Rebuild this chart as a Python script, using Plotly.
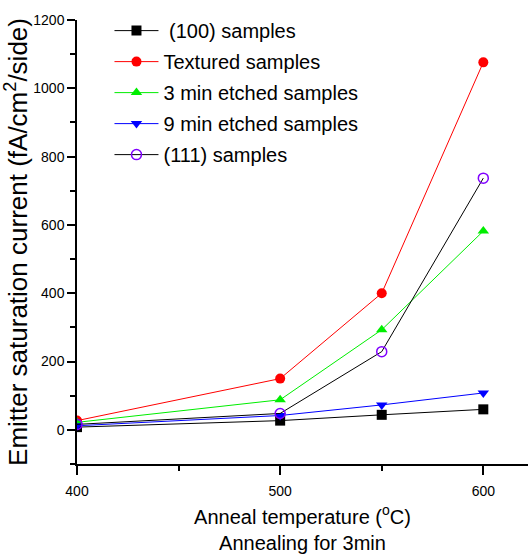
import plotly.graph_objects as go

temps = [400, 500, 550, 600]
s100 = [8, 27, 44, 60]
textured = [27, 150, 400, 1076]
etch3 = [22, 88, 293, 582]
etch9 = [12, 42, 73, 108]
s111 = [16, 48, 229, 737]

names = [" (100) samples", "Textured samples", "3 min etched samples", "9 min etched samples", "(111) samples"]
series = [s100, textured, etch3, etch9, s111]
line_colors = ["black", "red", "#00ee00", "blue", "black"]
marker_colors = ["black", "red", "#00ee00", "blue", "#8000ff"]
symbols = ["square", "circle", "triangle-up", "triangle-down", "circle-open"]

fig = go.Figure()
for i, (n, ys) in enumerate(zip(names, series)):
    fig.add_trace(go.Scatter(
        x=temps, y=ys, name=n, mode="lines+markers",
        line=dict(color=line_colors[i], width=1),
        marker=dict(symbol=symbols[i], color=marker_colors[i], size=10,
                    line=dict(color=marker_colors[i], width=1.5 if i == 4 else 0)),
        legendgroup=str(i),
    ))

fnt = "Liberation Sans, Arial, sans-serif"
fig.update_layout(
    width=528, height=558,
    margin=dict(l=77, r=0, t=20, b=94),
    plot_bgcolor="white", paper_bgcolor="white",
    font=dict(family=fnt, color="black"),
    showlegend=True,
    legend=dict(x=0.072, y=1.02, xanchor="left", yanchor="top",
                font=dict(size=20, family=fnt), bgcolor="rgba(0,0,0,0)",
                traceorder="grouped", tracegroupgap=2, itemwidth=44),
    xaxis=dict(range=[400, 622], showline=True, linecolor="black", linewidth=1.5,
               ticks="outside", ticklen=9, tickwidth=1.5, tickcolor="black",
               tickvals=[400, 500, 600], showgrid=False, zeroline=False,
               minor=dict(tickvals=[450, 550], ticks="outside", ticklen=5, tickcolor="black", tickwidth=1.5),
               tickfont=dict(size=14, family=fnt), ticklabelstandoff=4,
               title=dict(text="Anneal temperature (<sup>o</sup>C)<br>Annealing for 3min",
                          font=dict(size=20, family=fnt), standoff=12)),
    yaxis=dict(range=[-100, 1200], showline=True, linecolor="black", linewidth=1.5,
               ticks="outside", ticklen=8, tickwidth=1.5, tickcolor="black",
               tickvals=[0, 200, 400, 600, 800, 1000, 1200], showgrid=False, zeroline=False,
               minor=dict(tickvals=[-100, 100, 300, 500, 700, 900, 1100], ticks="outside", ticklen=5,
                          tickcolor="black", tickwidth=1.5),
               tickfont=dict(size=14, family=fnt),
               title=dict(text="Emitter saturation current (fA/cm<sup>2</sup>/side)",
                          font=dict(size=26), standoff=4)),
)

fig.write_html("out.html")
